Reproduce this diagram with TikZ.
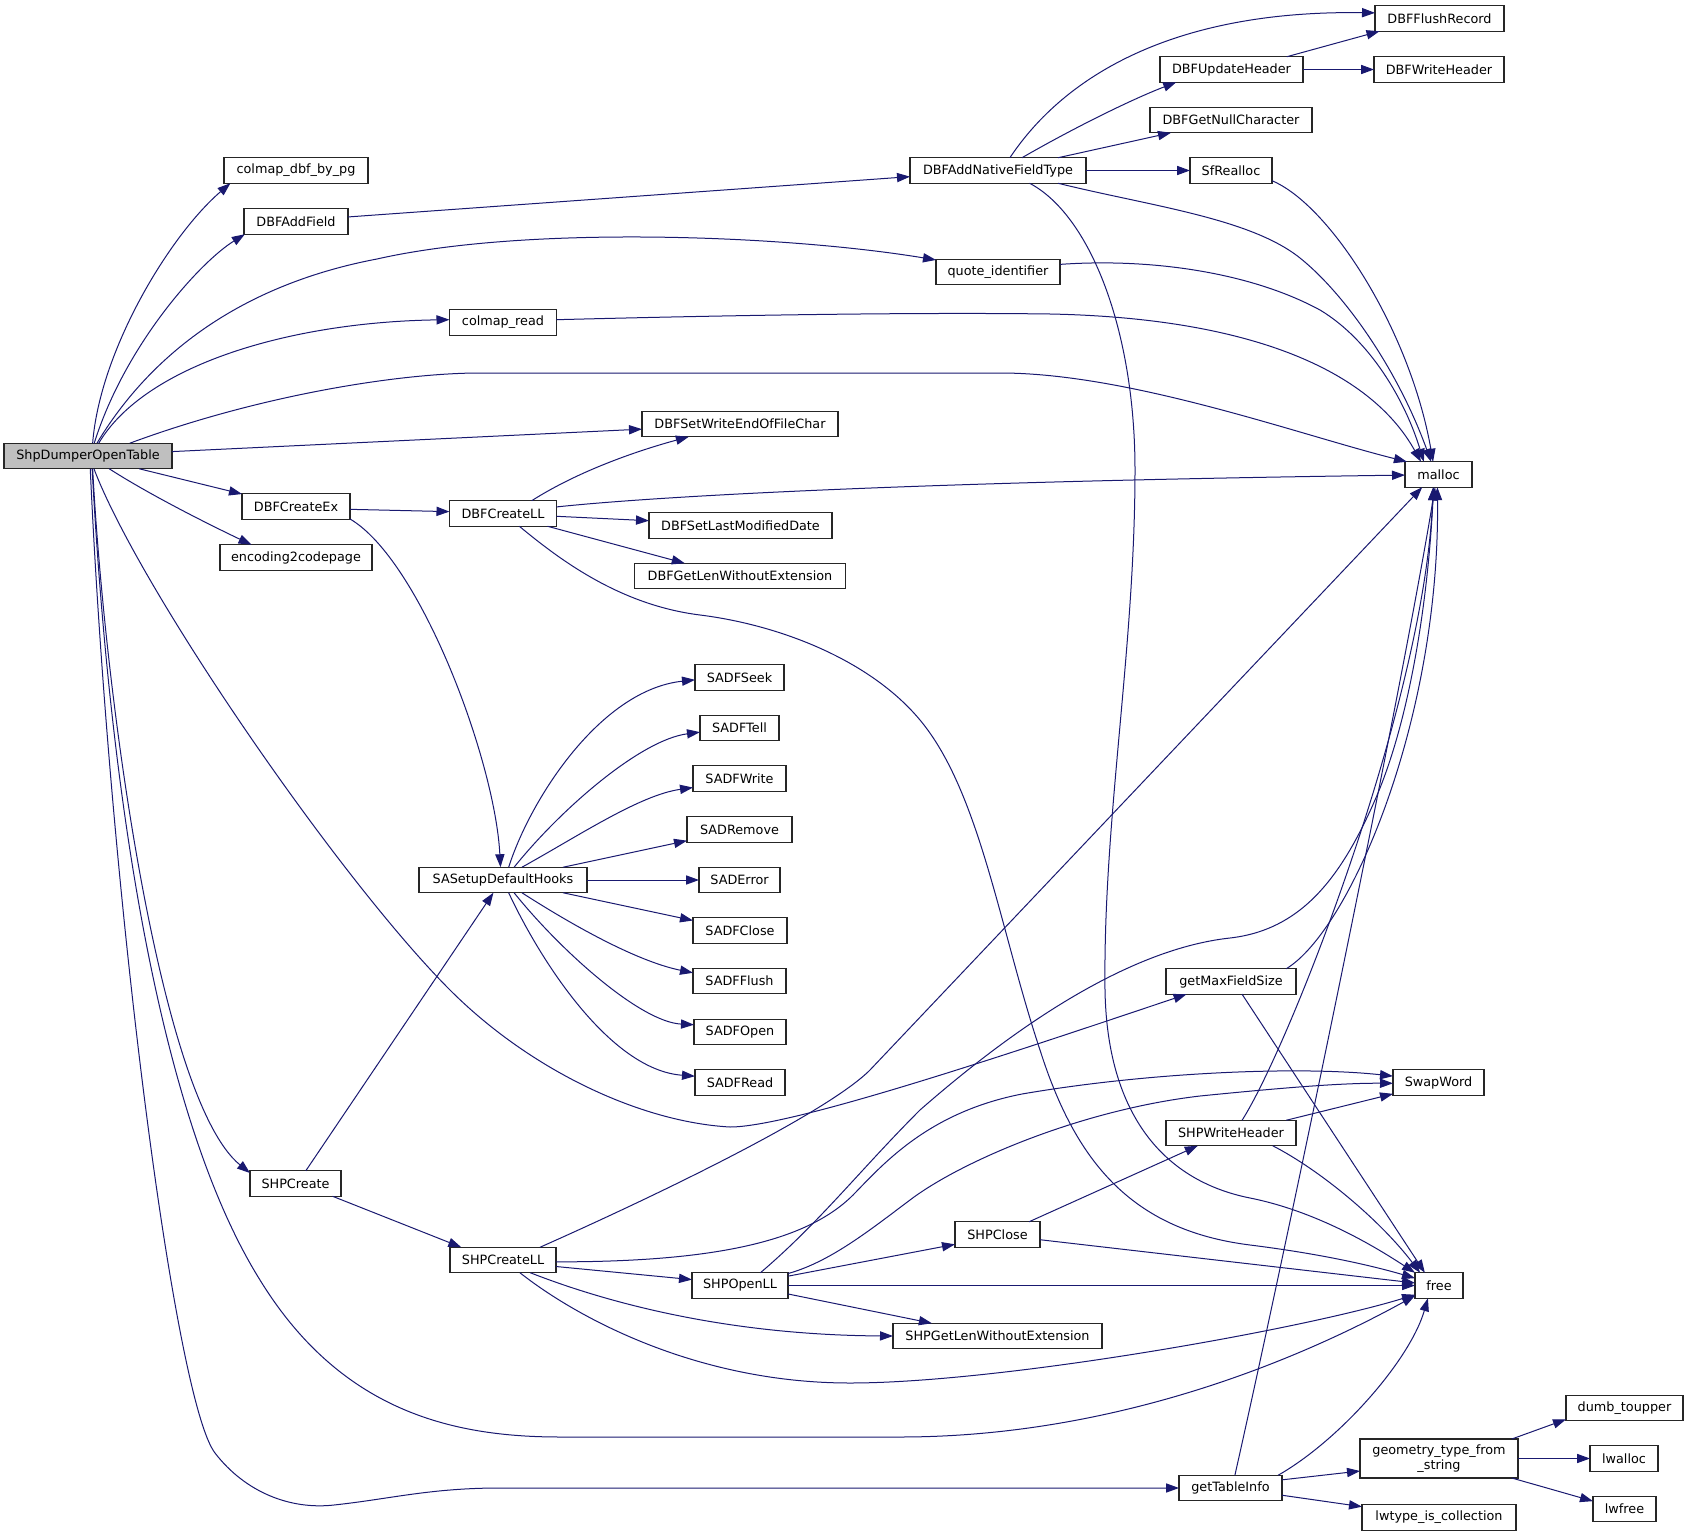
\documentclass[tikz,border=0pt]{standalone}
\usepackage{fontspec}
\setmainfont{DejaVu Sans}
\usetikzlibrary{arrows.meta}
\definecolor{edgec}{HTML}{191970}
\definecolor{curfill}{HTML}{BFBFBF}
\newcommand{\fnt}{\fontsize{6.4pt}{7.2pt}\selectfont}
\tikzset{
  fn/.style={draw=black!85, fill=white, line width=0.55pt, inner sep=0pt, outer sep=0pt,
             minimum height=12.75pt, font=\fnt, text=black, align=center},
  cur/.style={fn, fill=curfill},
  e/.style={draw=edgec, line width=0.5pt, -{Triangle[length=6.5pt,width=4.6pt]}}
}
\begin{document}
\begin{tikzpicture}[x=0.5pt,y=-0.5pt]
\fill[white] (0,0) rectangle (1688,1536);
\useasboundingbox (0,0) rectangle (1688,1536);
% nodes
\node[cur, minimum width=84pt]   (S)      at (88,456)     {ShpDumperOpenTable};
\node[fn, minimum width=72pt]    (cdp)    at (296,170.5)  {colmap\_dbf\_by\_pg};
\node[fn, minimum width=52pt]    (daf)    at (296,221.5)  {DBFAddField};
\node[fn, minimum width=53.5pt]  (cr)     at (503,322.5)  {colmap\_read};
\node[fn, minimum width=98pt]    (dsw)    at (740,424)    {DBFSetWriteEndOfFileChar};
\node[fn, minimum width=54pt]    (dce)    at (296,506.5)  {DBFCreateEx};
\node[fn, minimum width=53.5pt]  (dcl)    at (503,513.5)  {DBFCreateLL};
\node[fn, minimum width=91.5pt]  (dslm)   at (740.5,525.5){DBFSetLastModifiedDate};
\node[fn, minimum width=76pt]    (e2c)    at (296,557.5)  {encoding2codepage};
\node[fn, minimum width=105.5pt] (dglwe)  at (740,576)    {DBFGetLenWithoutExtension};
\node[fn, minimum width=64.5pt]  (dfr)    at (1439.5,18.5){DBFFlushRecord};
\node[fn, minimum width=71.5pt]  (duh)    at (1231.5,69.5){DBFUpdateHeader};
\node[fn, minimum width=65pt]    (dwh)    at (1439,69.5)  {DBFWriteHeader};
\node[fn, minimum width=81pt]    (dgnc)   at (1231,120)   {DBFGetNullCharacter};
\node[fn, minimum width=88pt]    (danft)  at (998,170.5)  {DBFAddNativeFieldType};
\node[fn, minimum width=41pt]    (sfr)    at (1231,170.5) {SfRealloc};
\node[fn, minimum width=62pt]    (qi)     at (998,272)    {quote\_identifier};
\node[fn, minimum width=33.5pt]  (malloc) at (1438.5,474.5){malloc};
\node[fn, minimum width=44.5pt]  (seek)   at (739.5,677.5){SADFSeek};
\node[fn, minimum width=39.5pt]  (tell)   at (739.5,728)  {SADFTell};
\node[fn, minimum width=46.5pt]  (write)  at (739.5,778.5){SADFWrite};
\node[fn, minimum width=52.5pt]  (remove) at (739.5,829.5){SADRemove};
\node[fn, minimum width=84pt]    (sasdh)  at (503,880)    {SASetupDefaultHooks};
\node[fn, minimum width=40.5pt]  (error)  at (739.5,880)  {SADError};
\node[fn, minimum width=47pt]    (close)  at (740,930.5)  {SADFClose};
\node[fn, minimum width=46.5pt]  (flush)  at (739.5,981)  {SADFFlush};
\node[fn, minimum width=46pt]    (open)   at (740,1032)   {SADFOpen};
\node[fn, minimum width=45pt]    (read)   at (740,1082.5) {SADFRead};
\node[fn, minimum width=45.5pt]  (shpc)   at (295.5,1183.5){SHPCreate};
\node[fn, minimum width=65pt]    (gmfs)   at (1231,981.5) {getMaxFieldSize};
\node[fn, minimum width=45.5pt]  (swap)   at (1438.5,1082.5){SwapWord};
\node[fn, minimum width=65pt]    (shpwh)  at (1231,1133)  {SHPWriteHeader};
\node[fn, minimum width=53pt]    (shpcll) at (503,1260)   {SHPCreateLL};
\node[fn, minimum width=48pt]    (shpoll) at (740,1285.5) {SHPOpenLL};
\node[fn, minimum width=42.5pt]  (shpclose) at (997.5,1234.5){SHPClose};
\node[fn, minimum width=24pt]    (free)   at (1439,1285.5) {free};
\node[fn, minimum width=104.5pt] (shpglwe) at (997.5,1336) {SHPGetLenWithoutExtension};
\node[fn, minimum width=58.5pt]  (dumb)   at (1624.5,1408) {dumb\_toupper};
\node[fn, minimum width=79pt, minimum height=19.5pt] (gtfs) at (1439,1458.5) {geometry\_type\_from\\\_string};
\node[fn, minimum width=34pt]    (lwalloc) at (1624,1458.5) {lwalloc};
\node[fn, minimum width=51.5pt]  (gti)    at (1230.5,1488) {getTableInfo};
\node[fn, minimum width=31.5pt]  (lwfree) at (1624.5,1509) {lwfree};
\node[fn, minimum width=77pt]    (lwtic)  at (1439,1517.5) {lwtype\_is\_collection};
% edges from ShpDumperOpenTable
\draw[e] (S.70) .. controls (100,350) and (170,235) .. (cdp.191);
\draw[e] (S.64) .. controls (125,345) and (200,262) .. (daf.194);
\draw[e] (S.55) .. controls (150,355) and (240,285) .. (377,259) .. controls (527,225) and (785,235) .. (qi.169);
\draw[e] (S.50) .. controls (145,365) and (290,322) .. (cr.177);
\draw[e] (S.17) .. controls (260,395) and (400,373) .. (480,373) -- (1000,373) .. controls (1130,373) and (1300,435) .. (malloc.158);
\draw[e] (S.3) -- (dsw.183);
\draw[e] (S.346) -- (dce.167);
\draw[e] (S.329) .. controls (150,495) and (210,525) .. (e2c.164);
\draw[e] (S.295) .. controls (140,590) and (340,880) .. (450,990) .. controls (530,1070) and (640,1122) .. (730,1127) .. controls (790,1127) and (1000,1057) .. (gmfs.196);
\draw[e] (S.290) .. controls (105,700) and (160,1100) .. (shpc.167);
\draw[e] (S.288) .. controls (110,800) and (160,1120) .. (260,1280) .. controls (340,1410) and (450,1437) .. (560,1437) -- (900,1437) .. controls (1100,1437) and (1280,1370) .. (free.203);
\draw[e] (S.280) .. controls (110,900) and (175,1401) .. (215,1453) .. controls (245,1492) and (290,1510) .. (334,1505) .. controls (390,1499) and (430,1488) .. (500,1488) -- (gti.180);
% DBF branch
\draw[e] (daf.5) -- (danft.184);
\draw[e] (danft.47) .. controls (1065,75) and (1175,10) .. (dfr.175);
\draw[e] (danft.28) .. controls (1070,130) and (1130,100) .. (duh.193);
\draw[e] (danft.12) -- (dgnc.192);
\draw[e] (danft.0) -- (sfr.180);
\draw[e] (danft.348) .. controls (1150,206) and (1250,218) .. (1300,258) .. controls (1345,294) and (1398,370) .. (malloc.120);
\draw[e] (danft.338) .. controls (1090,215) and (1135,330) .. (1135,470) .. controls (1135,650) and (1103,820) .. (1105,990) .. controls (1107,1110) and (1160,1180) .. (1250,1198) .. controls (1320,1212) and (1380,1250) .. (free.152);
\draw[e] (duh.13) -- (dfr.192);
\draw[e] (duh.0) -- (dwh.180);
\draw[e] (sfr.346) .. controls (1330,205) and (1410,330) .. (malloc.113);
\draw[e] (qi.7) .. controls (1150,258) and (1250,272) .. (1320,310) .. controls (1370,340) and (1405,400) .. (malloc.139);
\draw[e] (cr.3) .. controls (700,316) and (900,312) .. (1050,314) .. controls (1250,318) and (1370,370) .. (malloc.144);
\draw[e] (dce.357) -- (dcl.178);
\draw[e] (dce.347) .. controls (420,560) and (495,760) .. (sasdh.101);
\draw[e] (dcl.24) .. controls (580,470) and (640,450) .. (dsw.194);
\draw[e] (dcl.7) .. controls (650,497) and (900,482) .. (malloc.181);
\draw[e] (dcl.357) -- (dslm.177);
\draw[e] (dcl.344) -- (dglwe.167);
\draw[e] (dcl.322) .. controls (560,560) and (620,605) .. (700,615) .. controls (780,625) and (870,660) .. (920,720) .. controls (980,792) and (1000,930) .. (1040,1050) .. controls (1075,1160) and (1130,1230) .. (1250,1245) .. controls (1330,1255) and (1380,1268) .. (free.163);
% SASetupDefaultHooks
\draw[e] (sasdh.66) .. controls (530,800) and (600,690) .. (seek.183);
\draw[e] (sasdh.49) .. controls (560,810) and (640,740) .. (tell.186);
\draw[e] (sasdh.34) .. controls (580,835) and (640,795) .. (write.191);
\draw[e] (sasdh.12) -- (remove.192);
\draw[e] (sasdh.0) -- (error.180);
\draw[e] (sasdh.348) -- (close.168);
\draw[e] (sasdh.326) .. controls (580,930) and (640,962) .. (flush.170);
\draw[e] (sasdh.311) .. controls (560,950) and (640,1022) .. (open.171);
\draw[e] (sasdh.294) .. controls (540,960) and (610,1070) .. (read.172);
% SHP branch
\draw[e] (shpc.51) -- (sasdh.233);
\draw[e] (shpc.341) -- (shpcll.163);
\draw[e] (shpcll.19) .. controls (680,1185) and (830,1110) .. (870,1070) -- (malloc.218);
\draw[e] (shpcll.358) .. controls (720,1262) and (810,1240) .. (855,1193) .. controls (885,1162) and (930,1112) .. (1022,1094) .. controls (1150,1072) and (1300,1066) .. (swap.172);
\draw[e] (shpcll.353) -- (shpoll.173);
\draw[e] (shpcll.335) .. controls (600,1300) and (720,1335) .. (shpglwe.180);
\draw[e] (shpcll.323) .. controls (580,1320) and (700,1383) .. (850,1383) .. controls (1000,1383) and (1300,1330) .. (free.201);
\draw[e] (shpoll.32) .. controls (820,1222) and (860,1170) .. (920,1110) .. controls (1000,1040) and (1120,950) .. (1230,938) .. controls (1300,930) and (1340,880) .. (1375,800) .. controls (1410,720) and (1428,600) .. (malloc.249);
\draw[e] (shpoll.14) .. controls (830,1262) and (870,1230) .. (910,1200) .. controls (960,1162) and (1080,1110) .. (1200,1096) .. controls (1280,1088) and (1340,1083) .. (swap.181);
\draw[e] (shpoll.11) -- (shpclose.193);
\draw[e] (shpoll.0) -- (free.180);
\draw[e] (shpoll.350) -- (shpglwe.169);
\draw[e] (shpclose.22) -- (shpwh.201);
\draw[e] (shpclose.353) -- (free.174);
\draw[e] (shpwh.49) .. controls (1290,1045) and (1425,700) .. (malloc.247);
\draw[e] (shpwh.13) -- (swap.194);
\draw[e] (shpwh.343) .. controls (1320,1170) and (1380,1220) .. (free.146);
\draw[e] (gmfs.13) .. controls (1350,930) and (1440,720) .. (malloc.265);
\draw[e] (gmfs.311) -- (free.138);
\draw[e] (gti.71) .. controls (1290,1230) and (1400,700) .. (malloc.255);
\draw[e] (gti.15) .. controls (1340,1440) and (1410,1360) .. (free.229);
\draw[e] (gti.9) -- (gtfs.189);
\draw[e] (gti.352) -- (lwtic.172);
\draw[e] (gtfs.15) -- (dumb.191);
\draw[e] (gtfs.0) -- (lwalloc.180);
\draw[e] (gtfs.345) -- (lwfree.166);
\end{tikzpicture}
\end{document}
